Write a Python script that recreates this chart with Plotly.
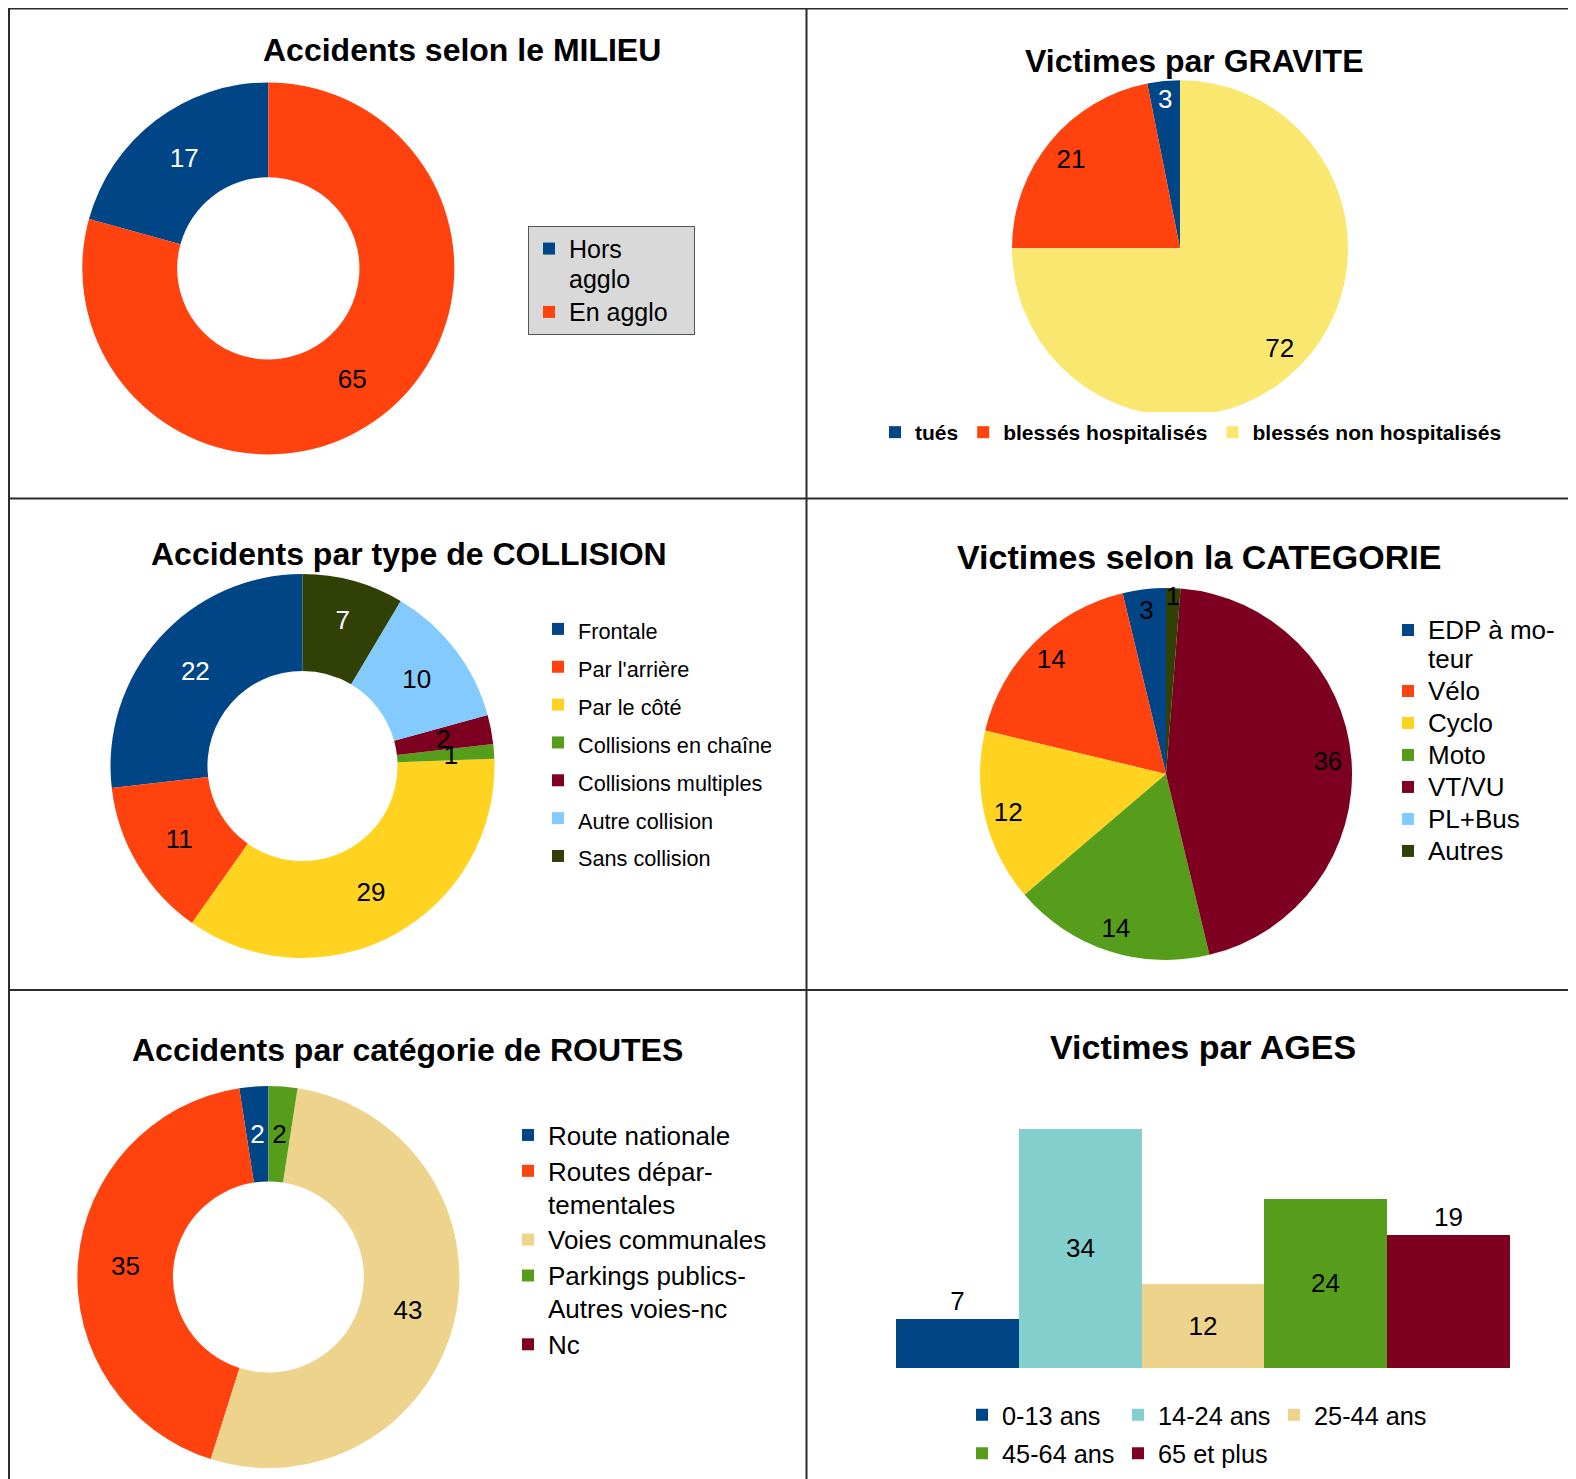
import plotly.graph_objects as go

# page body has an 8px margin: work in page pixels and convert
OX, OY = 8, 8
W, H = 1568, 1471

# ---------------- data ----------------
milieu_labels = ["Hors<br>agglo", "En agglo&nbsp;&nbsp;&nbsp;"]
milieu_values = [17, 65]

gravite_labels = ["tués", "blessés hospitalisés", "blessés non hospitalisés"]
gravite_values = [3, 21, 72]

collision_labels = ["Frontale", "Par l'arrière", "Par le côté", "Collisions en chaîne",
                    "Collisions multiples", "Autre collision", "Sans collision"]
collision_values = [22, 11, 29, 1, 2, 10, 7]

categorie_labels = ["EDP à mo-<br>teur", "Vélo", "Cyclo", "Moto", "VT/VU", "PL+Bus", "Autres"]
categorie_values = [3, 14, 12, 14, 36, 0, 1]

routes_labels = ["Route nationale", "Routes dépar-<br>tementales", "Voies communales",
                 "Parkings publics-<br>Autres voies-nc", "Nc"]
routes_values = [2, 35, 43, 2, 0]

ages_labels = ["0-13 ans", "14-24 ans", "25-44 ans", "45-64 ans", "65 et plus"]
ages_values = [7, 34, 12, 24, 19]

titles = ["Accidents selon le MILIEU", "Victimes par GRAVITE",
          "Accidents par type de COLLISION", "Victimes selon la CATEGORIE",
          "Accidents par catégorie de ROUTES", "Victimes par AGES"]

# ---------------- styles ----------------
BLUE, ORANGE, YELLOW, GREEN = "#004586", "#ff420e", "#ffd320", "#579d1c"
MAROON, LBLUE, OLIVE = "#7e0021", "#83caff", "#314004"
PALEY, CYAN, BEIGE = "#f9e76f", "#82cfce", "#eed38c"
CLEAR = "rgba(0,0,0,0)"
FONT = "Liberation Sans"
LBL = 26


def px(x):
    return (x - OX) / W


def py(y):
    return 1 - (y - OY) / H


def dom(cx, cy, r):
    return dict(x=[px(cx - r), px(cx + r)], y=[py(cy + r), py(cy - r)])


def txt(vals, keep=lambda v: True):
    return [str(v) if (v and keep(v)) else "" for v in vals]


def span(labels, size):
    return ["<span style='font-size:%gpx'>%s</span>" % (size, l) for l in labels]


def start_rot(vals):
    # first slice starts at 12 o'clock and runs counter-clockwise
    return -360.0 * vals[0] / sum(vals)


fig = go.Figure()


def add_pie(labels, values, colors, tcolors, center, r, hole, legend,
            text_r=None, text_hole=None, big=None):
    common = dict(values=values, sort=False, direction="counterclockwise",
                  rotation=start_rot(values), hoverinfo="label+value",
                  textinfo="text", textposition="inside", insidetextorientation="horizontal",
                  textfont=dict(family=FONT, size=LBL, color=tcolors))
    if text_r is None:
        base_text = txt(values)
    elif big is None:
        base_text = [""] * len(values)
    else:
        base_text = txt(values, lambda v: v >= big)
    fig.add_trace(go.Pie(labels=labels, hole=hole, marker=dict(colors=colors),
                         text=base_text, domain=dom(center[0], center[1], r),
                         legend=legend, **common))
    if text_r is not None:
        # transparent ring carrying the remaining value labels
        over_text = txt(values) if big is None else txt(values, lambda v: v < big)
        fig.add_trace(go.Pie(labels=labels, hole=text_hole,
                             marker=dict(colors=[CLEAR] * len(values)),
                             text=over_text, domain=dom(center[0], center[1], text_r),
                             showlegend=False, legend=legend, **common))


add_pie(span(milieu_labels, 25), milieu_values, [BLUE, ORANGE], ["white", "black"],
        (268.3, 268.4), 186, 0.49, "legend")
add_pie(gravite_labels, gravite_values, [BLUE, ORANGE, PALEY], ["white", "black", "black"],
        (1180, 248.3), 168, 0, "legend2", text_r=165, text_hole=0.71)
add_pie(span(collision_labels, 21.7), collision_values,
        [BLUE, ORANGE, YELLOW, GREEN, MAROON, LBLUE, OLIVE],
        ["white", "black", "black", "black", "black", "black", "white"],
        (302.5, 766), 192, 0.495, "legend3", text_r=154.5, text_hole=0.858, big=5)
add_pie(span(categorie_labels, 26), categorie_values,
        [BLUE, ORANGE, YELLOW, GREEN, MAROON, LBLUE, OLIVE], ["black"] * 7,
        (1166, 774), 186, 0, "legend4", text_r=185, text_hole=0.755)
add_pie(span(routes_labels, 26), routes_values, [BLUE, ORANGE, BEIGE, GREEN, MAROON],
        ["white", "black", "black", "black", "black"],
        (268.4, 1277), 191, 0.5, "legend5", text_r=154.2, text_hole=0.858, big=5)

age_colors = [BLUE, CYAN, BEIGE, GREEN, MAROON]
age_pos = ["outside", "inside", "inside", "inside", "outside"]
for i, (lab, val) in enumerate(zip(ages_labels, ages_values)):
    fig.add_trace(go.Bar(x=[0], y=[val], name=lab, marker=dict(color=age_colors[i], line=dict(width=0)),
                         text=[str(val)], textposition=age_pos[i], insidetextanchor="middle",
                         textfont=dict(family=FONT, size=LBL, color="black"), cliponaxis=False,
                         legend="legend6" if i < 3 else "legend7", xaxis="x", yaxis="y"))

base = 1368
ppu = 7.03
ytop = 40
fig.update_layout(
    width=W, height=H, margin=dict(l=0, r=0, t=0, b=0),
    paper_bgcolor="white", plot_bgcolor="white",
    font=dict(family=FONT, color="black"),
    barmode="group", bargap=0, bargroupgap=0,
    uniformtext=dict(minsize=LBL, mode="show"),
    xaxis=dict(domain=[px(896), px(1510)], range=[-0.5, 0.5], visible=False, fixedrange=True),
    yaxis=dict(domain=[py(base), py(base - ytop * ppu)], range=[0, ytop],
               visible=False, fixedrange=True),
    legend=dict(x=px(528), y=py(226), xanchor="left", yanchor="top", valign="top",
                bgcolor="#d9d9d9", bordercolor="#555555", borderwidth=1,
                font=dict(family=FONT, size=23.2, color="black")),
    legend2=dict(orientation="h", x=px(1191), y=py(412), xanchor="center", yanchor="top",
                 font=dict(family=FONT, size=21, color="black", weight="bold")),
    legend3=dict(x=px(538), y=py(605), xanchor="left", yanchor="top", valign="top",
                 font=dict(family=FONT, size=26.8, color="black")),
    legend4=dict(x=px(1388), y=py(609), xanchor="left", yanchor="top", valign="top",
                 font=dict(family=FONT, size=22.3, color="black")),
    legend5=dict(x=px(508), y=py(1112), xanchor="left", yanchor="top", valign="top",
                 font=dict(family=FONT, size=25.3, color="black")),
    legend6=dict(orientation="h", x=px(962), y=py(1391.7), xanchor="left", yanchor="top",
                 entrywidth=111, font=dict(family=FONT, size=25.3, color="black")),
    legend7=dict(orientation="h", x=px(962), y=py(1430.2), xanchor="left", yanchor="top",
                 entrywidth=111, font=dict(family=FONT, size=25.3, color="black")),
)

# titles
title_pos = [(462, 50), (1194, 61), (409, 554), (1199, 557), (407, 1050), (1203, 1047)]
title_size = [32, 32, 32, 34, 32, 34]
for t, (tx, ty), ts in zip(titles, title_pos, title_size):
    fig.add_annotation(text="<b>%s</b>" % t, x=px(tx), y=py(ty), xref="paper", yref="paper",
                       xanchor="center", yanchor="middle", showarrow=False,
                       font=dict(family=FONT, size=ts, color="black"))

# panel borders
LC = "#2b2b2b"
RIGHT, BOTTOM = OX + W, OY + H
lines = [((9, 8.5), (RIGHT, 8.5)), ((9, 8), (9, BOTTOM)), ((806.5, 8), (806.5, BOTTOM)),
         ((9, 498.5), (RIGHT, 498.5)), ((9, 990), (RIGHT, 990))]
for (x0, y0), (x1, y1) in lines:
    fig.add_shape(type="line", xref="paper", yref="paper", x0=px(x0), x1=px(x1),
                  y0=py(y0), y1=py(y1), line=dict(color=LC, width=2))

fig.write_html("out.html")
